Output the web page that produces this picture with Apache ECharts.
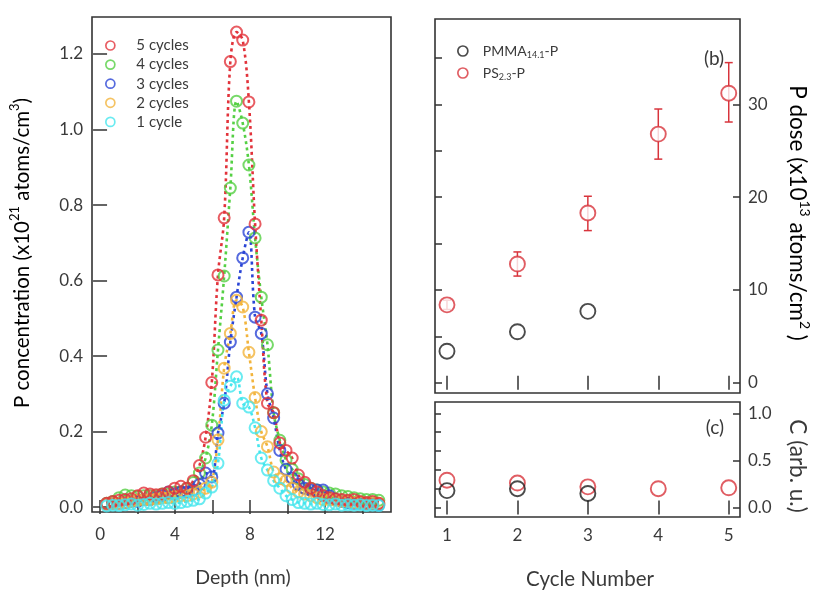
<!DOCTYPE html>
<html><head><meta charset="utf-8">
<script src="https://cdn.jsdelivr.net/npm/echarts@6/dist/echarts.min.js"></script>
<style>html,body{margin:0;padding:0;background:#fff}#c{width:818px;height:591px}</style>
</head><body><div id="c"></div>
<script>
// ---------- Panel (a): P depth profiles ----------
const depth = [0.35,0.68,1.01,1.34,1.67,2.00,2.33,2.66,2.99,3.32,3.65,3.98,4.31,4.64,4.97,5.30,5.63,5.96,6.29,6.62,6.95,7.28,7.61,7.94,8.27,8.60,8.93,9.26,9.59,9.92,10.25,10.58,10.91,11.24,11.57,11.90,12.23,12.56,12.89,13.22,13.55,13.88,14.21,14.54,14.87];
const cyc5 = [0.010,0.015,0.018,0.020,0.022,0.030,0.037,0.035,0.033,0.035,0.040,0.050,0.055,0.050,0.070,0.110,0.185,0.330,0.615,0.766,1.180,1.258,1.237,1.073,0.750,0.495,0.275,0.250,0.170,0.150,0.130,0.085,0.066,0.050,0.040,0.030,0.025,0.022,0.020,0.018,0.020,0.015,0.012,0.015,0.010];
const cyc4 = [0.010,0.015,0.025,0.032,0.030,0.028,0.030,0.030,0.030,0.035,0.035,0.040,0.040,0.050,0.065,0.090,0.130,0.217,0.416,0.612,0.845,1.075,1.017,0.906,0.713,0.556,0.430,0.250,0.177,0.125,0.100,0.075,0.060,0.050,0.045,0.040,0.037,0.035,0.030,0.028,0.025,0.022,0.020,0.020,0.018];
const cyc3 = [0.008,0.010,0.010,0.012,0.015,0.015,0.020,0.020,0.025,0.030,0.040,0.035,0.040,0.040,0.045,0.060,0.090,0.080,0.196,0.275,0.437,0.556,0.660,0.728,0.503,0.460,0.300,0.236,0.150,0.100,0.077,0.060,0.050,0.045,0.045,0.045,0.030,0.020,0.015,0.012,0.010,0.010,0.008,0.008,0.006];
const cyc2 = [0.008,0.010,0.010,0.012,0.015,0.018,0.020,0.020,0.022,0.025,0.025,0.028,0.030,0.030,0.035,0.040,0.050,0.066,0.178,0.368,0.460,0.548,0.530,0.410,0.290,0.200,0.160,0.093,0.075,0.070,0.050,0.040,0.035,0.030,0.025,0.020,0.020,0.018,0.015,0.015,0.012,0.012,0.010,0.010,0.010];
const cyc1 = [0.003,0.005,0.004,0.006,0.008,0.005,0.007,0.010,0.008,0.010,0.012,0.010,0.012,0.015,0.018,0.022,0.037,0.053,0.116,0.283,0.320,0.345,0.275,0.265,0.210,0.130,0.098,0.070,0.050,0.030,0.020,0.012,0.010,0.008,0.010,0.007,0.006,0.008,0.005,0.006,0.005,0.006,0.004,0.005,0.004];
const profileNames = ['5 cycles','4 cycles','3 cycles','2 cycles','1 cycle'];
const depthLabelTicks = [0,4,8,12];
const depthMinorTicks = [0,2,4,6,8,10,12,14];
const concTicks = [0,0.2,0.4,0.6,0.8,1.0,1.2];

// ---------- Panel (b): P dose vs cycle ----------
const cycles = [1,2,3,4,5];
const psDose = [8.4,12.8,18.3,26.8,31.2];
const psDoseLow = [7.9,11.5,16.4,24.1,28.1];
const psDoseHigh = [8.9,14.1,20.1,29.5,34.5];
const pmmaCycles = [1,2,3];
const pmmaDose = [3.4,5.5,7.7];
const doseLabelTicks = [0,10,20,30];
const doseMinorTicks = [0,5,10,15,20,25,30,35];

// ---------- Panel (c): C vs cycle ----------
const psC = [0.29,0.26,0.22,0.20,0.21];
const pmmaC = [0.18,0.20,0.15];
const cLabelTicks = [0,0.5,1.0];
const cMinorTicks = [0,0.2,0.4,0.6,0.8,1.0];

const colors = ['#e2333b','#55d044','#2a45d6','#f2b43c','#45e6ee'];
const FONT = 'Lato';
const TXT = '#3a3a3a';
const AX = '#333';

function axisBase(extra) {
  return Object.assign({
    type: 'value',
    axisLine: {show: false},
    splitLine: {show: false},
    axisTick: {show: true, inside: true, length: 7, lineStyle: {color: AX, width: 1.5}},
    axisLabel: {show: false, color: TXT, fontFamily: FONT, fontSize: 17}
  }, extra);
}
function ticks(vals, len) {
  return {show: true, inside: true, length: len || 7, customValues: vals, lineStyle: {color: AX, width: 1.5}};
}
function labels(vals, margin, fmt) {
  const o = {show: true, customValues: vals, color: TXT, fontFamily: FONT, fontSize: 17, margin: margin};
  if (fmt) o.formatter = fmt;
  return o;
}
const oneDec = function (v) { return v.toFixed(1); };

const chart = echarts.init(document.getElementById('c'));
const series = [];
const drawOrder = [1,2,3,0,4];
const profiles = [cyc5,cyc4,cyc3,cyc2,cyc1];
drawOrder.forEach(function (k) {
  series.push({
    name: profileNames[k] + ' fit', type: 'line', xAxisIndex: 0, yAxisIndex: 0,
    data: depth.map(function (d, i) { return [d, profiles[k][i]]; }),
    showSymbol: false, smooth: 0.35, silent: true, z: 2,
    lineStyle: {color: colors[k], width: 2.6, type: [3, 3.5]}
  });
});
drawOrder.forEach(function (k) {
  series.push({
    name: profileNames[k], type: 'scatter', xAxisIndex: 0, yAxisIndex: 0,
    data: depth.map(function (d, i) { return [d, profiles[k][i]]; }),
    symbol: 'circle', symbolSize: 11, z: 3,
    itemStyle: {color: 'rgba(255,255,255,0)', borderColor: colors[k], borderWidth: 2}
  });
});
// error bars
series.push({
  name: 'err', type: 'custom', xAxisIndex: 2, yAxisIndex: 2, z: 2,
  data: cycles.map(function (c, i) { return [c, psDoseLow[i], psDoseHigh[i]]; }),
  renderItem: function (params, api) {
    const lo = api.coord([api.value(0), api.value(1)]);
    const hi = api.coord([api.value(0), api.value(2)]);
    const st = {stroke: '#d8343c', lineWidth: 1.5};
    return {type: 'group', children: [
      {type: 'line', shape: {x1: lo[0], y1: lo[1], x2: hi[0], y2: hi[1]}, style: st},
      {type: 'line', shape: {x1: lo[0]-4, y1: lo[1], x2: lo[0]+4, y2: lo[1]}, style: st},
      {type: 'line', shape: {x1: hi[0]-4, y1: hi[1], x2: hi[0]+4, y2: hi[1]}, style: st}
    ]};
  }
});
series.push({
  name: 'PMMA', type: 'scatter', xAxisIndex: 2, yAxisIndex: 2, z: 3,
  data: pmmaCycles.map(function (c, i) { return [c, pmmaDose[i]]; }),
  symbol: 'circle', symbolSize: 15,
  itemStyle: {color: 'rgba(255,255,255,0)', borderColor: '#1e1e1e', borderWidth: 1.9}
});
series.push({
  name: 'PS', type: 'scatter', xAxisIndex: 2, yAxisIndex: 2, z: 3,
  data: cycles.map(function (c, i) { return [c, psDose[i]]; }),
  symbol: 'circle', symbolSize: 15,
  itemStyle: {color: '#fff', borderColor: '#d8343c', borderWidth: 1.9}
});
series.push({
  name: 'PS_c', type: 'scatter', xAxisIndex: 4, yAxisIndex: 4, z: 3,
  data: cycles.map(function (c, i) { return [c, psC[i]]; }),
  symbol: 'circle', symbolSize: 15,
  itemStyle: {color: 'rgba(255,255,255,0)', borderColor: '#d8343c', borderWidth: 1.9}
});
series.push({
  name: 'PMMA_c', type: 'scatter', xAxisIndex: 4, yAxisIndex: 4, z: 4,
  data: pmmaCycles.map(function (c, i) { return [c, pmmaC[i]]; }),
  symbol: 'circle', symbolSize: 15,
  itemStyle: {color: 'rgba(255,255,255,0)', borderColor: '#1e1e1e', borderWidth: 1.9}
});

function richFor(size) {
  return {
    a: {fontFamily: FONT, fontSize: size, color: TXT, lineHeight: size + 6, verticalAlign: 'middle'},
    sup: {fontFamily: FONT, fontSize: Math.round(size * 0.62), color: TXT, lineHeight: Math.round(size * 0.62), verticalAlign: 'top'}
  };
}

const option = {
  backgroundColor: '#fff',
  animation: false,
  grid: [
    {left: 92, top: 17, width: 299, height: 495, show: true, borderColor: AX, borderWidth: 1.6, backgroundColor: 'transparent'},
    {left: 435, top: 19, width: 305, height: 374, show: true, borderColor: AX, borderWidth: 1.6, backgroundColor: 'transparent'},
    {left: 435, top: 402, width: 305, height: 115, show: true, borderColor: AX, borderWidth: 1.6, backgroundColor: 'transparent'}
  ],
  xAxis: [
    axisBase({gridIndex: 0, position: 'bottom', min: -0.43, max: 15.52, axisTick: ticks(depthMinorTicks), axisLabel: labels(depthLabelTicks, 14)}),
    axisBase({gridIndex: 0, position: 'top', min: -0.43, max: 15.52, axisTick: ticks(depthMinorTicks)}),
    axisBase({gridIndex: 1, position: 'bottom', min: 0.83, max: 5.16, axisTick: ticks(cycles)}),
    axisBase({gridIndex: 1, position: 'top', min: 0.83, max: 5.16, axisTick: ticks(cycles)}),
    axisBase({gridIndex: 2, position: 'bottom', min: 0.83, max: 5.16, axisTick: ticks(cycles), axisLabel: labels(cycles, 10)}),
    axisBase({gridIndex: 2, position: 'top', min: 0.83, max: 5.16, axisTick: ticks(cycles)})
  ],
  yAxis: [
    axisBase({gridIndex: 0, position: 'left', min: -0.013, max: 1.298, axisTick: ticks(concTicks), axisLabel: labels(concTicks, 9, oneDec)}),
    axisBase({gridIndex: 0, position: 'right', min: -0.013, max: 1.298, axisTick: ticks(concTicks)}),
    axisBase({gridIndex: 1, position: 'left', min: -1.1, max: 39.2, axisTick: ticks(doseMinorTicks)}),
    axisBase({gridIndex: 1, position: 'right', min: -1.1, max: 39.2, axisTick: ticks(doseLabelTicks), axisLabel: labels(doseLabelTicks, 8)}),
    axisBase({gridIndex: 2, position: 'left', min: -0.1, max: 1.12, axisTick: ticks(cMinorTicks, 6)}),
    axisBase({gridIndex: 2, position: 'right', min: -0.1, max: 1.12, axisTick: ticks(cLabelTicks), axisLabel: labels(cLabelTicks, 8, oneDec)})
  ],
  legend: [
    {
      orient: 'vertical', left: 100, top: 33, itemWidth: 42, itemHeight: 9, itemGap: 4.1,
      selectedMode: false,
      textStyle: {color: TXT, fontFamily: FONT, fontSize: 15},
      data: profileNames.map(function (n, k) {
        return {name: n, icon: 'circle', itemStyle: {color: 'rgba(255,255,255,0)', borderColor: colors[k], borderWidth: 1.7}};
      })
    },
    {
      orient: 'vertical', left: 452, top: 37, itemWidth: 30, itemHeight: 10, itemGap: 4,
      selectedMode: false,
      formatter: function (n) {
        return n === 'PMMA' ? '{a|PMMA}{s|14.1}{a|-P}' : '{a|PS}{s|2.3}{a|-P}';
      },
      textStyle: {color: TXT, fontFamily: FONT, fontSize: 14, lineHeight: 18,
        rich: {
          a: {fontFamily: FONT, fontSize: 14, color: TXT, lineHeight: 18, verticalAlign: 'middle'},
          s: {fontFamily: FONT, fontSize: 9, color: TXT, lineHeight: 9, verticalAlign: 'bottom'}
        }},
      data: [
        {name: 'PMMA', icon: 'circle', itemStyle: {color: 'rgba(255,255,255,0)', borderColor: '#1e1e1e', borderWidth: 1.7}},
        {name: 'PS', icon: 'circle', itemStyle: {color: 'rgba(255,255,255,0)', borderColor: '#d8343c', borderWidth: 1.7}}
      ]
    }
  ],
  graphic: [
    {type: 'text', x: 22, y: 253, rotation: Math.PI / 2, z: 10,
      style: {text: '{a|P concentration (x10}{sup|21}{a| atoms/cm}{sup|3}{a|)}', rich: richFor(20.5), align: 'center', verticalAlign: 'middle'}},
    {type: 'text', x: 797, y: 213, rotation: -Math.PI / 2, z: 10,
      style: {text: '{a|P dose (x10}{sup|13}{a| atoms/cm}{sup|2}{a| )}', rich: richFor(22.5), align: 'center', verticalAlign: 'middle'}},
    {type: 'text', x: 797, y: 466, rotation: -Math.PI / 2, z: 10,
      style: {text: 'C (arb. u.)', fill: TXT, font: '22.5px ' + FONT, align: 'center', verticalAlign: 'middle'}},
    {type: 'text', x: 243, y: 578, z: 10,
      style: {text: 'Depth (nm)', fill: TXT, font: '19.5px ' + FONT, align: 'center', verticalAlign: 'middle'}},
    {type: 'text', x: 590, y: 579, z: 10,
      style: {text: 'Cycle Number', fill: TXT, font: '20.5px ' + FONT, align: 'center', verticalAlign: 'middle'}},
    {type: 'text', x: 714, y: 59, z: 10,
      style: {text: '(b)', fill: TXT, font: '19px ' + FONT, align: 'center', verticalAlign: 'middle'}},
    {type: 'text', x: 715, y: 428, z: 10,
      style: {text: '(c)', fill: TXT, font: '19px ' + FONT, align: 'center', verticalAlign: 'middle'}}
  ],
  series: series
};
chart.setOption(option);
</script>
</body></html>
